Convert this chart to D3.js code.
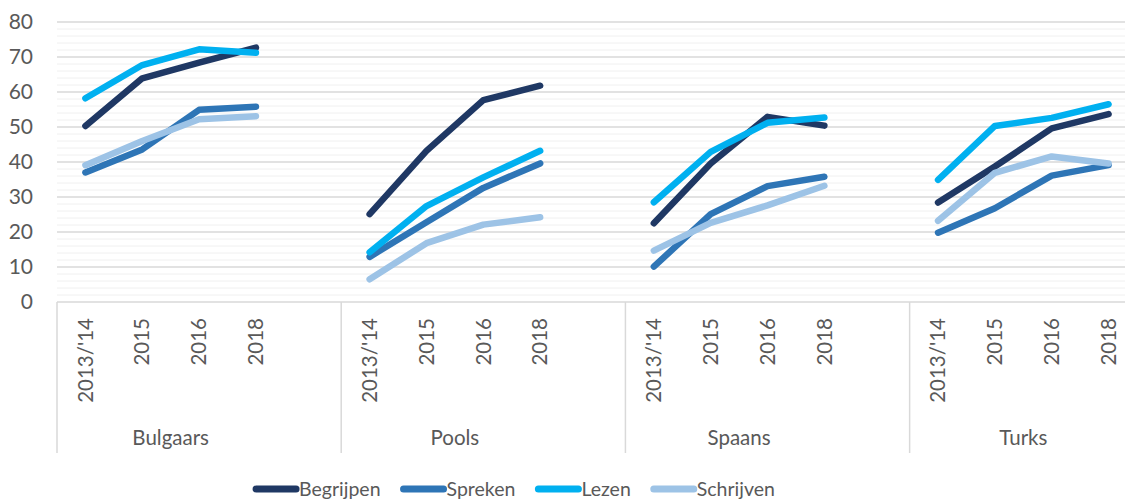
<!DOCTYPE html>
<html>
<head>
<meta charset="utf-8">
<script src="https://cdn.jsdelivr.net/npm/d3@7"></script>
<style>
  body { margin: 0; background: #fff; }
  text { font-family: Lato, "Open Sans", sans-serif; fill: #595959; }
</style>
</head>
<body>
<svg id="viz" width="1125" height="501"></svg>
<script>
var width = 1125;
var height = 501;

// data
var groups = ["Bulgaars", "Pools", "Spaans", "Turks"];
var years = ["2013/'14", "2015", "2016", "2018"];
var seriesNames = ["Begrijpen", "Spreken", "Lezen", "Schrijven"];
var seriesColors = ["#1f3864", "#2e75b6", "#00b0f0", "#9dc3e6"];
var yTicks = [0, 10, 20, 30, 40, 50, 60, 70, 80];

var begrijpen = [50.3, 63.9, 68.4, 72.7,  25.1, 43.2, 57.7, 61.8,  22.5, 39.6, 52.9, 50.4,  28.4, 38.7, 49.6, 53.7];
var spreken   = [37.0, 43.6, 54.9, 55.8,  12.9, 22.8, 32.6, 39.6,  10.1, 25.1, 33.1, 35.8,  19.8, 26.8, 36.1, 39.1];
var lezen     = [58.2, 67.7, 72.2, 71.2,  14.2, 27.4, 35.6, 43.2,  28.5, 42.9, 51.2, 52.7,  34.9, 50.3, 52.6, 56.5];
var schrijven = [39.1, 46.0, 52.2, 53.1,   6.5, 16.8, 22.1, 24.2,  14.7, 22.6, 27.6, 33.2,  23.2, 36.9, 41.6, 39.6];

var allSeries = [begrijpen, spreken, lezen, schrijven];

var plotLeft = 57, plotRight = 1137, plotTop = 22, plotBottom = 302;
// 4 groups of 4 years with one empty slot between groups -> 19 slots
var nSlots = groups.length * 5 - 1;
var x = d3.scaleLinear().domain([0, nSlots]).range([plotLeft, plotRight]);
var y = d3.scaleLinear().domain([0, 80]).range([plotBottom, plotTop]);

function slot(g, c) { return g * 5 + c + 0.5; }

var svg = d3.select("#viz");

// minor grid every 2
var minor = d3.range(2, 80, 2).filter(function(d) { return d % 10 != 0; });
svg.append("g").selectAll("line").data(minor).enter().append("line")
    .attr("x1", plotLeft).attr("x2", plotRight)
    .attr("y1", function(d) { return y(d); })
    .attr("y2", function(d) { return y(d); })
    .attr("stroke", "#f0f0f0").attr("stroke-width", 1);

// major grid
svg.append("g").selectAll("line").data(yTicks.slice(1)).enter().append("line")
    .attr("x1", plotLeft).attr("x2", plotRight)
    .attr("y1", function(d) { return y(d); })
    .attr("y2", function(d) { return y(d); })
    .attr("stroke", "#d9d9d9").attr("stroke-width", 1.3);

// y axis labels
svg.append("g").selectAll("text").data(yTicks).enter().append("text")
    .attr("x", 33)
    .attr("y", function(d) { return y(d); })
    .attr("dy", "0.35em")
    .attr("text-anchor", "end")
    .style("font-size", "21px")
    .text(function(d) { return d; });

// x axis line and group separators
svg.append("line")
    .attr("x1", plotLeft).attr("x2", plotRight)
    .attr("y1", plotBottom).attr("y2", plotBottom)
    .attr("stroke", "#d9d9d9").attr("stroke-width", 1.5);

var seps = d3.range(groups.length + 1).map(function(g) { return Math.min(g * 5, nSlots); });
svg.append("g").selectAll("line").data(seps).enter().append("line")
    .attr("x1", function(d) { return x(d); })
    .attr("x2", function(d) { return x(d); })
    .attr("y1", plotBottom).attr("y2", 453)
    .attr("stroke", "#d9d9d9").attr("stroke-width", 1.5);

// year labels, rotated
var yearLabels = [];
groups.forEach(function(gname, g) {
    years.forEach(function(yr, c) { yearLabels.push({ s: slot(g, c), t: yr }); });
});
svg.append("g").selectAll("text").data(yearLabels).enter().append("text")
    .attr("transform", function(d) { return "translate(" + x(d.s) + ",318) rotate(-90)"; })
    .attr("dy", "0.35em")
    .attr("text-anchor", "end")
    .style("font-size", "20.5px")
    .text(function(d) { return d.t; });

// group labels
svg.append("g").selectAll("text").data(groups).enter().append("text")
    .attr("x", function(d, g) { return (x(g * 5) + x(Math.min(g * 5 + 4, nSlots))) / 2; })
    .attr("y", 445)
    .attr("text-anchor", "middle")
    .style("font-size", "20.5px")
    .text(function(d) { return d; });

// lines, one piece per group
var line = d3.line()
    .x(function(d) { return x(d.s); })
    .y(function(d) { return y(d.v); });

allSeries.forEach(function(vals, si) {
    var pieces = groups.map(function(gname, g) {
        return years.map(function(yr, c) { return { s: slot(g, c), v: vals[g * 4 + c] }; });
    });
    svg.append("g").selectAll("path").data(pieces).enter().append("path")
        .attr("d", line)
        .attr("fill", "none")
        .attr("stroke", seriesColors[si])
        .attr("stroke-width", 6.5)
        .attr("stroke-linecap", "round")
        .attr("stroke-linejoin", "round");
});

// legend
var legend = svg.append("g");
var lx = 0;
seriesNames.forEach(function(name, i) {
    var it = legend.append("g");
    it.append("line")
        .attr("x1", 3).attr("x2", 43)
        .attr("y1", 0).attr("y2", 0)
        .attr("stroke", seriesColors[i])
        .attr("stroke-width", 7)
        .attr("stroke-linecap", "round");
    var t = it.append("text")
        .attr("x", 46).attr("dy", "0.35em")
        .style("font-size", "19.5px")
        .text(name);
    var w = 46 + t.node().getComputedTextLength();
    it.attr("transform", "translate(" + lx + ",0)");
    lx += w + 20;
});
var legendW = lx - 20;
legend.attr("transform", "translate(" + (514 - legendW / 2) + ",489)");
</script>
</body>
</html>
